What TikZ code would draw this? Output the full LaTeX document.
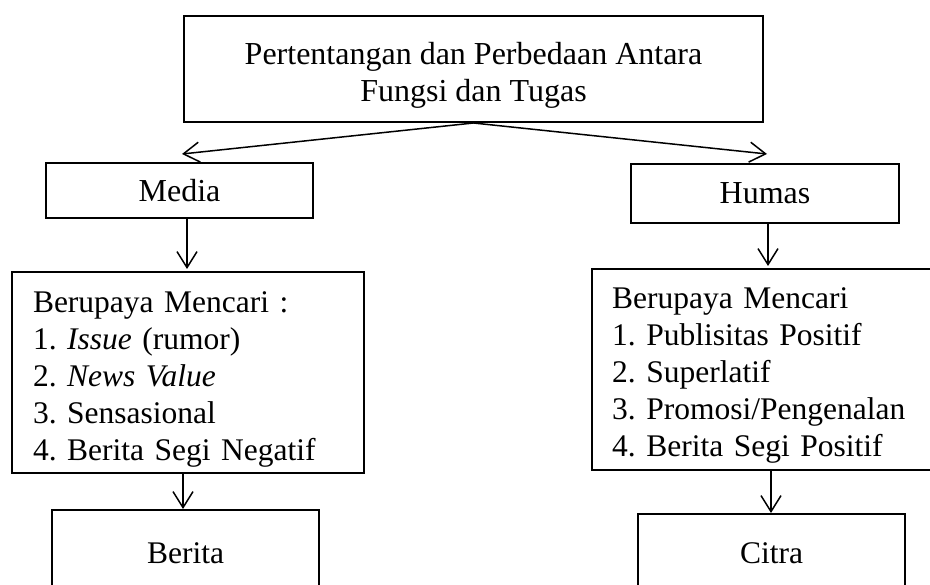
\documentclass[tikz,border=0pt]{standalone}
\usepackage{fontspec}
\setmainfont{Liberation Serif}
\usetikzlibrary{arrows.meta,calc}
\begin{document}
\frenchspacing
\begin{tikzpicture}[x=1pt,y=-1pt,
  box/.style={draw,line width=2pt,inner sep=0pt},
  big/.style={font=\fontsize{32}{37}\selectfont},
  txt/.style={font=\fontsize{31.5}{36.8}\selectfont},
  arr/.style={line width=1.5pt,-{Straight Barb[length=16pt,width=20pt,line width=1.5pt]}}]
\useasboundingbox (0,0) rectangle (930,585);
\clip (0,0) rectangle (930,585);
% boxes
\node[box, minimum width=579pt, minimum height=106pt] (top) at (473.5,69) {};
\node[box, big, minimum width=267pt, minimum height=55pt] (media) at (179.5,190.5) {Media};
\node[box, big, minimum width=268pt, minimum height=59pt] (humas) at (765,193.5) {Humas};
\node[box, minimum width=352pt, minimum height=201pt] (llist) at (188,372.5) {};
\node[box, minimum width=350pt, minimum height=201pt] (rlist) at (767,369.5) {};
\node[box, minimum width=267pt, minimum height=100pt] (berita) at (185.5,560) {};
\node[box, minimum width=267pt, minimum height=100pt] (citra) at (771.5,564) {};
% texts
\node[big, inner sep=0pt, align=center] (topt) at ($(top.center)+(0,6)$)
  {Pertentangan dan Perbedaan Antara\\Fungsi dan Tugas};
\node[txt, inner sep=0pt, text width=310pt, align=left] (llistt) at ($(llist.center)+(0,7)$)
  {Berupaya Mencari :\\1. \textit{Issue} (rumor)\\2. \textit{News Value}\\3. Sensasional\\4. Berita Segi Negatif};
\node[txt, inner sep=0pt, anchor=west, text width=310pt, align=left] (rlistt) at ($(rlist.west)+(21,6)$)
  {Berupaya Mencari\\1. Publisitas Positif\\2. Superlatif\\3. Promosi/Pengenalan\\4. Berita Segi Positif};
\node[txt, inner sep=0pt, anchor=base] (beritat) at (185.5,563) {Berita};
\node[txt, inner sep=0pt, anchor=base] (citrat) at (771.5,563) {Citra};
% connectors
\coordinate (o) at (top.south);
\draw[arr] (o) -- ($(media.north)+(2.5,-8)$);
\draw[arr] (o) -- ($(humas.north)+(2,-9)$);
\draw[arr] ($(media.south)+(7.5,0)$) -- ($(llist.north)+(-1,-2)$);
\draw[arr] ($(llist.south)+(-5,0)$) -- ($(berita.north)+(-2.5,0)$);
\draw[arr] ($(humas.south)+(3,0)$) -- ($(rlist.north)+(1,-2)$);
\draw[arr] ($(rlist.south)+(4,0)$) -- ($(citra.north)+(-0.5,0)$);
\end{tikzpicture}
\end{document}
